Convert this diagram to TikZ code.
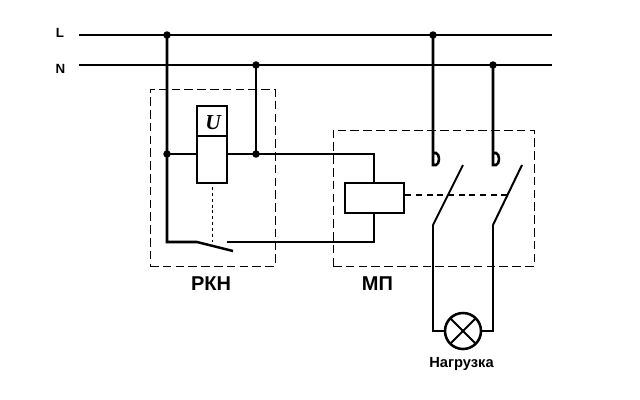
\documentclass[tikz,border=0pt]{standalone}
\usepackage{fontspec}
\setmainfont{Liberation Sans}
\usetikzlibrary{calc}
\newfontfamily\serifit{Liberation Serif}
\tikzset{
  x=0.75pt,y=-0.75pt,
  wire/.style={draw=black,line width=1.9pt,line cap=butt,line join=miter},
  blade/.style={draw=black,line width=1.5pt},
  frame/.style={draw=black,line width=0.7pt,dash pattern=on 6.4pt off 3.2pt,inner sep=0pt,fill=none},
  boxn/.style={draw=black,line width=1.9pt,inner sep=0pt,fill=white},
  dot/.style={circle,fill=black,inner sep=0pt,minimum size=5.6pt},
  lbl/.style={inner sep=0pt,text=black},
  link/.style={draw=black,line width=1.4pt,dash pattern=on 4.5pt off 3.5pt},
  fine/.style={draw=black,line width=0.6pt,dash pattern=on 2.2pt off 2.2pt},
  lampn/.style={circle,draw=black,line width=1.9pt,inner sep=0pt,minimum size=27pt,path picture={
    \draw[line width=1.5pt] (path picture bounding box.north west)--(path picture bounding box.south east);
    \draw[line width=1.5pt] (path picture bounding box.north east)--(path picture bounding box.south west);}},
}
\begin{document}
\begin{tikzpicture}
\useasboundingbox[fill=white] (0,0) rectangle (640,400);
% frames
\node[frame,minimum width=93.75pt,minimum height=132.75pt] (frkn) at (212.5,177.5) {};
\node[frame,minimum width=150.75pt,minimum height=102pt] (fmp) at (433.5,198) {};
% buses
\coordinate (Ls) at (79,35); \coordinate (Le) at (552,35);
\coordinate (Ns) at (79,65); \coordinate (Ne) at (552,65);
\draw[wire] (Ls) -- (Le);
\draw[wire] (Ns) -- (Ne);
\node[lbl,font=\bfseries\fontsize{10pt}{12pt}\selectfont] (tL) at (60,33) {L};
\node[lbl,font=\bfseries\fontsize{10pt}{12pt}\selectfont] (tN) at (60.5,68.5) {N};
% junctions
\node[dot] (j1) at (167,35) {};
\node[dot] (j2) at (433,35) {};
\node[dot] (j3) at (256,65) {};
\node[dot] (j4) at (493,65) {};
\node[dot] (j5) at (167,154) {};
\node[dot] (j6) at (256,154) {};
% relay
\node[boxn,minimum width=22.5pt,minimum height=57.75pt] (rel) at (212,144.5) {};
\coordinate (relL) at (197,136); \coordinate (relR) at (227,136);
\draw[wire] (relL) -- (relR);
\node[inner sep=0pt] (U) at (213,122.5) {\fontsize{16pt}{18pt}\serifit\bfseries\itshape U};
% coil
\node[boxn,minimum width=44.25pt,minimum height=22.5pt] (coil) at (374.5,198) {};
% wiring
\coordinate (sw1) at (197,242);
\coordinate (sw2) at (233,251);
\coordinate (sw3) at (227,242);
\coordinate (c1) at (167,242);
\coordinate (c2) at (374,242);
\coordinate (c3) at (374,154);
\draw[wire] (j1.center) -- (c1) -- (sw1) -- (sw2);
\draw[wire] (sw3) -- (c2) -- (coil.south -| c2);
\draw[wire] (coil.north -| c3) -- (c3) -- (j6.center);
\draw[wire] (j6.center) -- (rel.east |- j6);
\draw[wire] (j5.center) -- (rel.west |- j5);
\draw[wire] (j3.center) -- (j6.center);
\draw[fine] (212,187) -- (212,242);
% contacts
\coordinate (a1) at (433,165); \coordinate (a2) at (433,225); \coordinate (a3) at (463,165);
\coordinate (b1) at (493,165); \coordinate (b2) at (493,225); \coordinate (b3) at (522,165);
\draw[wire] (j2.center) -- (433,153) -- (436,153) .. controls (440,154) and (440,164) .. (436,165) -- (a1) -- (433,153);
\draw[wire] (j4.center) -- (493,153) -- (496,153) .. controls (500,154) and (500,164) .. (496,165) -- (b1) -- (493,153);
\draw[blade] (a2) -- (a3);
\draw[blade] (b2) -- (b3);
\coordinate (linkEnd) at (508,195);
\draw[link] (coil.east |- linkEnd) -- (linkEnd);
% lamp
\node[lampn] (lamp) at (463,331) {};
\coordinate (l1) at (433,331); \coordinate (l2) at (493,331);
\draw[wire] (a2) -- (l1) -- (lamp.west);
\draw[wire] (b2) -- (l2) -- (lamp.east);
% labels
\node[lbl,font=\bfseries\fontsize{15pt}{17pt}\selectfont] (rkn) at (211,284) {РКН};
\node[lbl,font=\bfseries\fontsize{15pt}{17pt}\selectfont] (mp) at (377.5,284) {МП};
\node[lbl,font=\bfseries\fontsize{11pt}{13pt}\selectfont] (load) at (461.5,363.5) {Нагрузка};
\end{tikzpicture}
\end{document}
